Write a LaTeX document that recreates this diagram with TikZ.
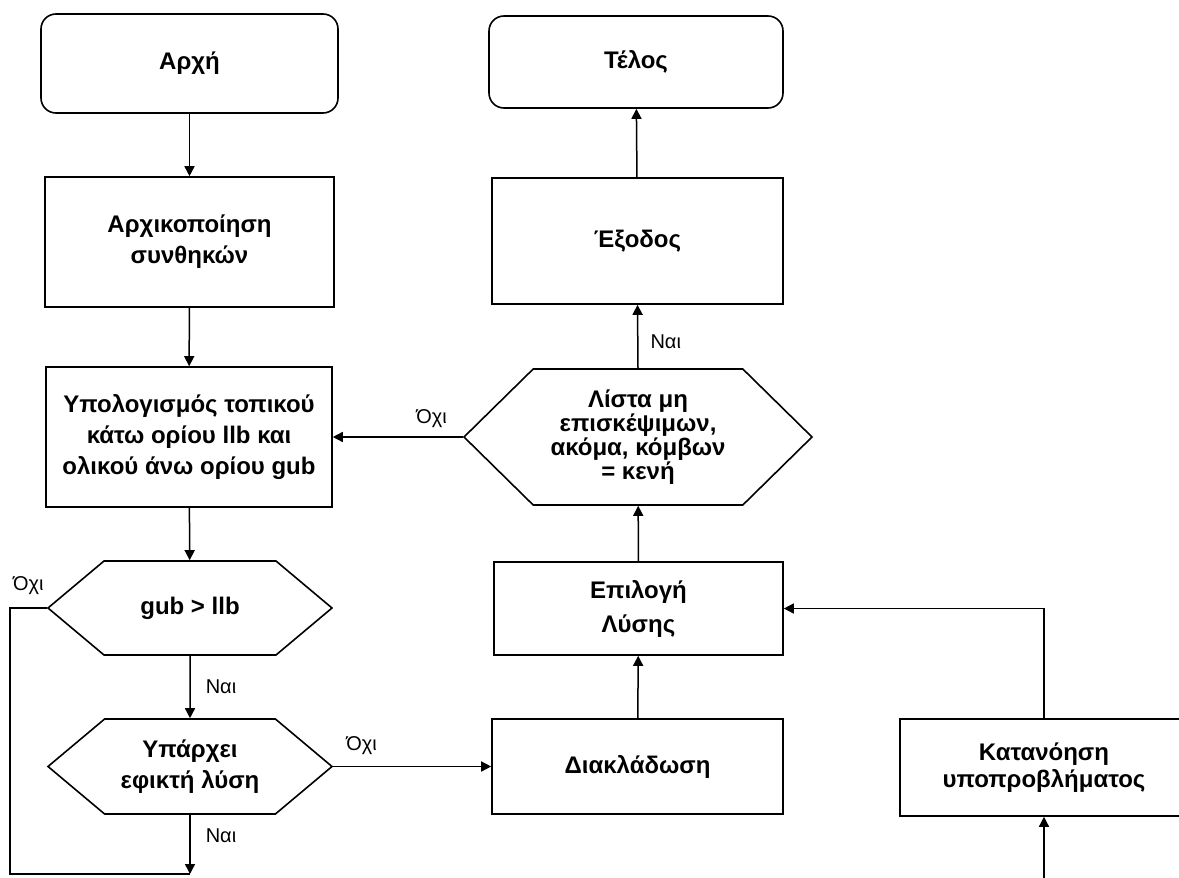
\documentclass[tikz,border=0pt]{standalone}
\usepackage{fontspec}
\setmainfont{Liberation Sans}
\usetikzlibrary{shapes.symbols,arrows.meta}
\begin{document}
\begin{tikzpicture}[x=1pt,y=-1pt,
  flow/.style={draw, line width=1.6pt, inner sep=2pt, align=center,
    font=\bfseries\fontsize{24}{31}\selectfont},
  term/.style={flow, rounded corners=15pt},
  proc/.style={flow},
  decide/.style={flow, shape=signal, signal to=west and east},
  wire/.style={line width=1.5pt},
  conn/.style={wire, -{Triangle[length=10pt,width=10pt]}},
  lbl/.style={inner sep=1pt, font=\fontsize{20}{22}\selectfont}
]
\useasboundingbox (0,0) rectangle (1179,878);

% left column
\node[term, minimum width=297, minimum height=99] (start) at (189.5,63.5) {Αρχή};
\node[proc, minimum width=289, minimum height=130] (init) at (189.5,242) {Αρχικοποίηση\\συνθηκών};
\node[proc, minimum width=286, minimum height=140] (calc) at (189,437) {Υπολογισμός τοπικού\\κάτω ορίου llb και\\ολικού άνω ορίου gub};
\node[decide, signal pointer angle=80, minimum width=284, minimum height=94] (gub) at (190,608) {gub > llb};
\node[decide, signal pointer angle=80, minimum width=284, minimum height=95] (feas) at (190,766.5) {Υπάρχει\\εφικτή λύση};

% middle column
\node[term, minimum width=294, minimum height=92] (end) at (636,62) {Τέλος};
\node[proc, minimum width=291, minimum height=126] (out) at (637.5,241) {Έξοδος};
\node[decide, signal pointer angle=89, minimum width=348, minimum height=136,
  font=\bfseries\fontsize{24}{24}\selectfont] (list) at (638,437) {Λίστα μη\\επισκέψιμων,\\ακόμα, κόμβων\\= κενή};
\node[proc, minimum width=289, minimum height=93,
  font=\bfseries\fontsize{24}{34}\selectfont] (sel) at (638.5,608.5) {Επιλογή\\Λύσης};
\node[proc, minimum width=291, minimum height=95] (branch) at (637.5,766.5) {Διακλάδωση};

% right column
\node[proc, minimum width=288, minimum height=97,
  font=\bfseries\fontsize{24}{27}\selectfont] (sub) at (1044,767.5) {Κατανόηση\\υποπροβλήματος};

\coordinate (loopend) at (190,874);
\coordinate (subin) at (1044,878);

% connectors
\draw[conn] (start) -- (init);
\draw[conn] (init) -- (calc);
\draw[conn] (calc) -- (gub);
\draw[conn] (gub) -- node[lbl, right=14pt] {Ναι} (feas);
\draw[conn] (feas.south) -- node[lbl, right=14pt, pos=0.35] {Ναι} (loopend);
\draw[wire] (gub.west) -- node[lbl, above=12pt] {Όχι} ++(-37,0) |- (loopend);
\draw[conn] (feas.east) -- node[lbl, above=10pt, pos=0.18] {Όχι} (branch.west);
\draw[conn] (branch) -- (sel);
\draw[conn] (sel) -- (list);
\draw[conn] (list.west) -- node[lbl, above=8pt, pos=0.24] {Όχι} (calc.east);
\draw[conn] (list.north) -- node[lbl, right=11pt, pos=0.41] {Ναι} (out.south);
\draw[conn] (out) -- (end);
\draw[conn] (subin) -- (subin |- sub.south);
\draw[conn] (sub.north -| subin) |- (sel.east);
\end{tikzpicture}
\end{document}
